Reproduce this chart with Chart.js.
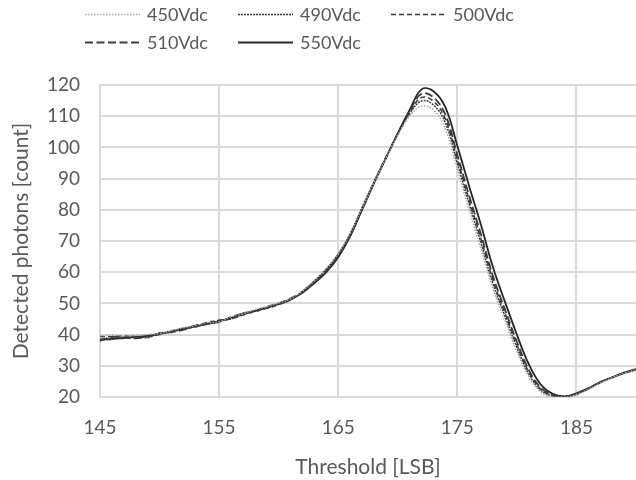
<!DOCTYPE html>
<html>
<head>
<meta charset="utf-8">
<script src="https://cdn.jsdelivr.net/npm/chart.js@4.4.1/dist/chart.umd.min.js"></script>
<style>
  html, body { margin: 0; padding: 0; background: #ffffff; }
  #wrap { width: 636px; height: 480px; position: relative; }
</style>
</head>
<body>
<div id="wrap"><canvas id="c" width="636" height="480"></canvas></div>
<script>
// ---- data ----
const thresholds = [145,146,147,148,149,150,151,152,153,154,155,156,157,158,159,160,161,162,163,164,165,166,167,168,169,170,171,172,173,174,175,176,177,178,179,180,181,182,183,184,185,186,187,188,189,190];
const seriesLabels = ['450Vdc','490Vdc','500Vdc','510Vdc','550Vdc'];
const v450 = [39.6,39.8,39.6,39.8,40.1,40.3,41.3,42.2,42.9,43.8,44.1,45.7,46.6,48.0,49.0,50.1,51.5,54.0,57.3,61.2,66.0,72.4,80.6,88.7,96.4,103.9,
              110.0,113.2,112.0,105.8,93.0,79.8,67.3,54.6,44.5,34.6,26.5,21.6,20.0,19.9,20.8,22.5,24.5,26.2,27.6,28.7];
const v490 = [38.2,38.5,39.3,39.5,39.0,40.5,40.7,41.9,42.8,43.3,44.5,45.0,46.9,47.5,48.7,49.7,51.1,53.9,57.2,61.0,65.8,72.3,80.6,88.8,96.6,104.3,
              110.8,114.9,113.6,107.8,94.9,81.8,69.2,56.2,45.9,35.9,27.4,22.2,20.3,19.9,20.9,22.6,24.6,26.2,27.6,28.7];
const v500 = [39.4,39.3,39.6,39.1,39.3,40.0,41.2,42.0,42.4,43.9,44.6,45.1,46.3,47.8,48.4,49.6,51.2,53.6,56.9,60.6,65.5,72.0,80.5,88.9,96.8,104.5,
              111.3,116.0,114.8,109.0,96.2,83.0,70.5,57.4,46.9,36.8,28.0,22.6,20.5,20.0,20.9,22.6,24.6,26.2,27.7,28.8];
const v510 = [38.0,39.2,39.0,38.8,39.4,40.4,40.9,41.5,42.9,43.6,44.0,45.6,46.7,47.3,48.9,50.0,51.6,53.7,56.8,60.4,65.2,71.8,80.3,88.7,96.6,104.4,
              111.7,117.2,116.0,110.4,97.6,84.4,71.9,58.6,48.0,37.7,28.7,23.0,20.7,20.1,21.0,22.7,24.7,26.3,27.7,28.8];
const v550 = [38.5,38.6,38.9,39.2,39.6,40.2,41.0,41.8,42.6,43.4,44.3,45.4,46.5,47.6,48.6,49.8,51.3,53.4,56.5,60.0,64.8,71.5,80.0,88.5,96.5,104.5,
              112.0,118.6,118.0,112.8,100.5,87.5,75.0,61.5,50.5,40.0,30.5,24.0,21.0,20.2,21.2,22.8,24.8,26.3,27.8,28.9];
const xTicks = [145,155,165,175,185];
const yTicks = [20,30,40,50,60,70,80,90,100,110,120];
const xTitle = 'Threshold [LSB]';
const yTitle = 'Detected photons [count]';

// ---- styling ----
const FONT = 'Lato, "Open Sans", sans-serif';
const TEXT = '#595959';
const GRID = '#d9d9d9';
const styles = [
  {color: '#a6a6a6', width: 1.5, dash: [1.5, 1.5]},
  {color: '#3a3a3a', width: 1.5, dash: [2, 1]},
  {color: '#3a3a3a', width: 1.5, dash: [5, 3]},
  {color: '#3a3a3a', width: 1.8, dash: [8, 3.5]},
  {color: '#262626', width: 1.8, dash: []}
];
const seriesValues = [v450, v490, v500, v510, v550];

const datasets = seriesLabels.map((lab, i) => ({
  label: lab,
  data: thresholds.map((t, k) => ({x: t, y: seriesValues[i][k]})),
  borderColor: styles[i].color,
  borderWidth: styles[i].width,
  borderDash: styles[i].dash,
  backgroundColor: styles[i].color,
  pointRadius: 0,
  fill: false,
  tension: 0.4
}));

// custom legend: two rows, three columns, like the reference
const legendPlugin = {
  id: 'gridLegend',
  afterDraw(chart) {
    const ctx = chart.ctx;
    const cols = [85, 238, 391];
    const rows = [14, 42];
    ctx.save();
    ctx.font = '18px ' + FONT;
    ctx.textBaseline = 'middle';
    ctx.textAlign = 'left';
    chart.data.datasets.forEach((ds, i) => {
      const x = cols[i % 3];
      const y = rows[Math.floor(i / 3)];
      ctx.beginPath();
      ctx.strokeStyle = ds.borderColor;
      ctx.lineWidth = ds.borderWidth;
      ctx.setLineDash(ds.borderDash || []);
      ctx.moveTo(x, y + 0.5);
      ctx.lineTo(x + 55, y + 0.5);
      ctx.stroke();
      ctx.setLineDash([]);
      ctx.fillStyle = TEXT;
      ctx.fillText(ds.label, x + 62, y + 1);
    });
    ctx.restore();
  }
};

new Chart(document.getElementById('c'), {
  type: 'line',
  data: {datasets},
  plugins: [legendPlugin],
  options: {
    responsive: false,
    animation: false,
    devicePixelRatio: 1,
    layout: {padding: {top: 85, right: 0, left: 0, bottom: 0}},
    plugins: {legend: {display: false}, tooltip: {enabled: false}},
    scales: {
      x: {
        type: 'linear',
        min: 145,
        max: 190,
        afterBuildTicks: (scale) => { scale.ticks = xTicks.map(v => ({value: v})); },
        afterFit: (scale) => { scale.height = 83; },
        grid: {color: GRID, lineWidth: 2, drawTicks: false},
        border: {color: GRID, width: 2},
        ticks: {color: TEXT, font: {family: FONT, size: 19}, padding: 19, maxRotation: 0, autoSkip: false},
        title: {display: true, text: xTitle, color: TEXT, font: {family: FONT, size: 21}, padding: {top: 0, bottom: 0}}
      },
      y: {
        type: 'linear',
        min: 20,
        max: 120,
        afterBuildTicks: (scale) => { scale.ticks = yTicks.map(v => ({value: v})); },
        afterFit: (scale) => { scale.width = 100; },
        grid: {color: GRID, lineWidth: 2, drawTicks: false},
        border: {color: GRID, width: 2},
        ticks: {color: TEXT, font: {family: FONT, size: 19}, padding: 20},
        title: {display: true, text: yTitle, color: TEXT, font: {family: FONT, size: 21}, padding: {top: 9, bottom: 0}}
      }
    }
  }
});
</script>
</body>
</html>
